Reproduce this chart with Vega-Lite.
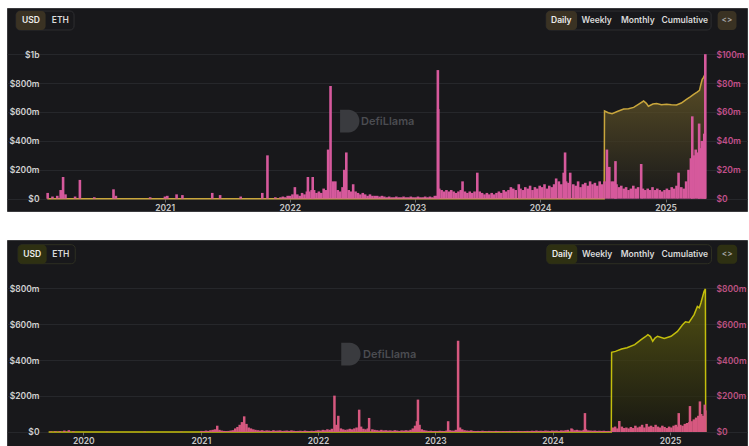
{
  "$schema": "https://vega.github.io/schema/vega-lite/v6.json",
  "background": "white",
  "padding": {"left": 6, "top": 7, "right": 3, "bottom": 3},
  "spacing": 27,
  "config": {
    "view": {"fill": "#18181b", "stroke": "#3a3a3d", "strokeWidth": 1},
    "font": "Inter",
    "axis": {"labelFont": "Inter", "labelFontSize": 8.5, "labelFontWeight": 600}
  },
  "datasets": {
    "topArea": [
      {"d":"2020-01-25","v":0},{"d":"2024-07-06","v":0},{"d":"2024-07-07","v":607},{"d":"2024-07-18","v":595},{"d":"2024-07-29","v":588},{"d":"2024-08-15","v":605},{"d":"2024-09-01","v":620},{"d":"2024-09-15","v":622},{"d":"2024-09-30","v":632},{"d":"2024-10-15","v":655},{"d":"2024-10-29","v":676},{"d":"2024-11-06","v":660},{"d":"2024-11-12","v":640},{"d":"2024-11-25","v":655},{"d":"2024-12-06","v":658},{"d":"2024-12-20","v":650},{"d":"2025-01-04","v":653},{"d":"2025-01-18","v":650},{"d":"2025-02-02","v":648},{"d":"2025-02-16","v":662},{"d":"2025-03-03","v":688},{"d":"2025-03-14","v":705},{"d":"2025-03-24","v":722},{"d":"2025-04-03","v":738},{"d":"2025-04-10","v":750},{"d":"2025-04-14","v":790},{"d":"2025-04-18","v":826},{"d":"2025-04-22","v":840},{"d":"2025-04-24","v":850},{"d":"2025-04-26","v":820},{"d":"2025-04-27","v":0}
    ],
    "topBars": [
      {"d":"2020-01-26","v":4},{"d":"2020-02-09","v":1.5},{"d":"2020-02-23","v":2},{"d":"2020-03-04","v":6},{"d":"2020-03-11","v":15},{"d":"2020-03-18","v":3},{"d":"2020-04-15","v":1.5},{"d":"2020-04-29","v":13},{"d":"2020-06-10","v":1},{"d":"2020-08-05","v":6.5},{"d":"2020-08-12","v":2},{"d":"2020-11-20","v":1},{"d":"2021-01-02","v":1.5},{"d":"2021-01-09","v":2},{"d":"2021-02-05","v":3},{"d":"2021-02-22","v":2.5},{"d":"2021-05-20","v":4},{"d":"2021-06-12","v":2.5},{"d":"2021-08-11","v":1.5},{"d":"2021-10-13","v":4},{"d":"2021-10-28","v":30},{"d":"2021-11-20","v":1},
      {"d":"2021-12-05","v":1},{"d":"2021-12-12","v":1.5},{"d":"2021-12-19","v":1},{"d":"2021-12-26","v":2},
      {"d":"2022-01-02","v":2},{"d":"2022-01-09","v":3},{"d":"2022-01-16","v":8},{"d":"2022-01-23","v":3},{"d":"2022-01-30","v":2},
      {"d":"2022-02-06","v":4},{"d":"2022-02-13","v":3},{"d":"2022-02-20","v":5},{"d":"2022-02-23","v":15},{"d":"2022-02-27","v":5},
      {"d":"2022-03-06","v":6},{"d":"2022-03-09","v":15},{"d":"2022-03-13","v":6},{"d":"2022-03-20","v":4},{"d":"2022-03-27","v":5},
      {"d":"2022-04-03","v":4},{"d":"2022-04-10","v":7},{"d":"2022-04-17","v":6},{"d":"2022-04-23","v":34},{"d":"2022-04-30","v":78},
      {"d":"2022-05-07","v":12},{"d":"2022-05-14","v":12},{"d":"2022-05-21","v":6},{"d":"2022-05-28","v":5},
      {"d":"2022-06-04","v":8},{"d":"2022-06-09","v":20},{"d":"2022-06-15","v":32},{"d":"2022-06-22","v":6},{"d":"2022-06-29","v":5},
      {"d":"2022-07-05","v":10},{"d":"2022-07-12","v":5},{"d":"2022-07-19","v":4},{"d":"2022-07-26","v":3},
      {"d":"2022-08-02","v":4},{"d":"2022-08-09","v":3},{"d":"2022-08-16","v":2},{"d":"2022-08-23","v":3},{"d":"2022-08-30","v":2},
      {"d":"2022-09-06","v":2},{"d":"2022-09-13","v":2},{"d":"2022-09-20","v":1.5},{"d":"2022-09-27","v":2},
      {"d":"2022-10-04","v":1.5},{"d":"2022-10-11","v":1},{"d":"2022-10-18","v":1.5},{"d":"2022-10-25","v":1},
      {"d":"2022-11-01","v":1},{"d":"2022-11-08","v":1.5},{"d":"2022-11-15","v":1},{"d":"2022-11-22","v":1},{"d":"2022-11-29","v":1.5},
      {"d":"2022-12-06","v":1},{"d":"2022-12-13","v":1},{"d":"2022-12-20","v":1.5},{"d":"2022-12-27","v":1},
      {"d":"2023-01-03","v":1},{"d":"2023-01-10","v":1.5},{"d":"2023-01-17","v":1},{"d":"2023-01-24","v":1},{"d":"2023-01-31","v":1.5},
      {"d":"2023-02-07","v":1},{"d":"2023-02-14","v":1.5},{"d":"2023-02-21","v":1},{"d":"2023-02-28","v":2},
      {"d":"2023-03-06","v":2},{"d":"2023-03-09","v":89},{"d":"2023-03-10","v":62},{"d":"2023-03-13","v":7},{"d":"2023-03-20","v":6},{"d":"2023-03-27","v":5},
      {"d":"2023-04-03","v":6},{"d":"2023-04-10","v":5},{"d":"2023-04-17","v":6},{"d":"2023-04-24","v":5},
      {"d":"2023-05-01","v":4},{"d":"2023-05-08","v":5},{"d":"2023-05-15","v":6},{"d":"2023-05-20","v":12},{"d":"2023-05-27","v":5},
      {"d":"2023-06-03","v":4},{"d":"2023-06-10","v":5},{"d":"2023-06-17","v":4},{"d":"2023-06-24","v":5},
      {"d":"2023-07-02","v":18},{"d":"2023-07-09","v":5},{"d":"2023-07-16","v":4},{"d":"2023-07-23","v":3},{"d":"2023-07-30","v":4},
      {"d":"2023-08-06","v":3},{"d":"2023-08-13","v":4},{"d":"2023-08-20","v":3},{"d":"2023-08-27","v":4},
      {"d":"2023-09-03","v":5},{"d":"2023-09-10","v":4},{"d":"2023-09-17","v":6},{"d":"2023-09-24","v":5},
      {"d":"2023-10-01","v":6},{"d":"2023-10-08","v":8},{"d":"2023-10-15","v":7},{"d":"2023-10-22","v":6},{"d":"2023-10-31","v":10},
      {"d":"2023-11-05","v":7},{"d":"2023-11-12","v":6},{"d":"2023-11-19","v":8},{"d":"2023-11-26","v":7},
      {"d":"2023-12-03","v":9},{"d":"2023-12-10","v":6},{"d":"2023-12-17","v":8},{"d":"2023-12-24","v":7},{"d":"2023-12-31","v":9},
      {"d":"2024-01-07","v":8},{"d":"2024-01-14","v":10},{"d":"2024-01-21","v":7},{"d":"2024-01-28","v":9},
      {"d":"2024-02-04","v":8},{"d":"2024-02-11","v":10},{"d":"2024-02-17","v":14},{"d":"2024-02-25","v":12},
      {"d":"2024-03-03","v":10},{"d":"2024-03-10","v":18},{"d":"2024-03-14","v":32},{"d":"2024-03-17","v":12},{"d":"2024-03-24","v":11},{"d":"2024-03-29","v":18},
      {"d":"2024-04-07","v":10},{"d":"2024-04-14","v":9},{"d":"2024-04-21","v":12},{"d":"2024-04-28","v":8},
      {"d":"2024-05-05","v":10},{"d":"2024-05-12","v":11},{"d":"2024-05-19","v":9},{"d":"2024-05-26","v":12},
      {"d":"2024-06-02","v":10},{"d":"2024-06-09","v":11},{"d":"2024-06-16","v":9},{"d":"2024-06-23","v":12},{"d":"2024-06-30","v":10},
      {"d":"2024-07-07","v":12},{"d":"2024-07-14","v":34},{"d":"2024-07-21","v":22},{"d":"2024-07-28","v":12},
      {"d":"2024-08-04","v":12},{"d":"2024-08-08","v":26},{"d":"2024-08-11","v":10},{"d":"2024-08-18","v":8},{"d":"2024-08-25","v":9},
      {"d":"2024-09-01","v":7},{"d":"2024-09-08","v":8},{"d":"2024-09-15","v":6},{"d":"2024-09-22","v":7},{"d":"2024-09-29","v":9},
      {"d":"2024-10-06","v":7},{"d":"2024-10-13","v":8},{"d":"2024-10-22","v":24},{"d":"2024-10-27","v":7},
      {"d":"2024-11-03","v":6},{"d":"2024-11-10","v":7},{"d":"2024-11-17","v":6},{"d":"2024-11-24","v":8},
      {"d":"2024-12-01","v":6},{"d":"2024-12-08","v":7},{"d":"2024-12-15","v":6},{"d":"2024-12-22","v":5},{"d":"2024-12-29","v":6},
      {"d":"2025-01-05","v":7},{"d":"2025-01-12","v":6},{"d":"2025-01-19","v":8},{"d":"2025-01-26","v":7},
      {"d":"2025-02-02","v":9},{"d":"2025-02-08","v":18},{"d":"2025-02-16","v":8},{"d":"2025-02-23","v":7},
      {"d":"2025-03-02","v":12},{"d":"2025-03-09","v":20},{"d":"2025-03-16","v":28},{"d":"2025-03-20","v":57},{"d":"2025-03-24","v":30},{"d":"2025-03-30","v":34},
      {"d":"2025-04-06","v":32},{"d":"2025-04-09","v":52},{"d":"2025-04-13","v":35},{"d":"2025-04-17","v":40},{"d":"2025-04-21","v":38},{"d":"2025-04-24","v":45},{"d":"2025-04-27","v":100}
    ],
    "botArea": [
      {"d":"2019-09-15","v":0},{"d":"2024-07-02","v":0},{"d":"2024-07-03","v":443},{"d":"2024-07-15","v":448},{"d":"2024-08-03","v":461},{"d":"2024-08-20","v":468},{"d":"2024-09-13","v":485},{"d":"2024-10-03","v":513},{"d":"2024-10-15","v":528},{"d":"2024-10-24","v":541},{"d":"2024-11-01","v":530},{"d":"2024-11-08","v":504},{"d":"2024-11-15","v":522},{"d":"2024-11-23","v":532},{"d":"2024-12-14","v":519},{"d":"2025-01-04","v":532},{"d":"2025-01-24","v":559},{"d":"2025-02-09","v":596},{"d":"2025-02-18","v":612},{"d":"2025-03-01","v":609},{"d":"2025-03-17","v":652},{"d":"2025-03-27","v":698},{"d":"2025-04-02","v":690},{"d":"2025-04-07","v":717},{"d":"2025-04-17","v":782},{"d":"2025-04-21","v":795},{"d":"2025-04-22","v":0}
    ],
    "botBars": [
      {"d":"2019-09-22","v":3},{"d":"2019-10-06","v":4},{"d":"2019-10-20","v":5},{"d":"2019-11-03","v":8},{"d":"2019-11-17","v":10},{"d":"2019-12-01","v":4},{"d":"2020-03-15","v":2},{"d":"2020-07-10","v":2},{"d":"2020-11-01","v":2},
      {"d":"2021-01-03","v":6},{"d":"2021-01-10","v":5},{"d":"2021-01-17","v":8},{"d":"2021-01-24","v":6},{"d":"2021-01-31","v":10},
      {"d":"2021-02-07","v":12},{"d":"2021-02-14","v":15},{"d":"2021-02-21","v":35},{"d":"2021-02-28","v":12},
      {"d":"2021-03-07","v":8},{"d":"2021-03-14","v":6},{"d":"2021-03-21","v":5},{"d":"2021-03-28","v":6},
      {"d":"2021-04-04","v":8},{"d":"2021-04-11","v":10},{"d":"2021-04-18","v":20},{"d":"2021-04-25","v":28},
      {"d":"2021-05-02","v":40},{"d":"2021-05-09","v":55},{"d":"2021-05-16","v":87},{"d":"2021-05-23","v":45},{"d":"2021-05-30","v":25},
      {"d":"2021-06-06","v":20},{"d":"2021-06-13","v":15},{"d":"2021-06-20","v":12},{"d":"2021-06-27","v":10},
      {"d":"2021-07-04","v":8},{"d":"2021-07-11","v":10},{"d":"2021-07-18","v":7},{"d":"2021-07-25","v":9},
      {"d":"2021-08-01","v":8},{"d":"2021-08-08","v":6},{"d":"2021-08-15","v":10},{"d":"2021-08-22","v":7},{"d":"2021-08-29","v":8},
      {"d":"2021-09-05","v":9},{"d":"2021-09-12","v":6},{"d":"2021-09-19","v":7},{"d":"2021-09-26","v":8},
      {"d":"2021-10-03","v":6},{"d":"2021-10-10","v":9},{"d":"2021-10-17","v":7},{"d":"2021-10-24","v":5},{"d":"2021-10-31","v":6},
      {"d":"2021-11-07","v":7},{"d":"2021-11-14","v":5},{"d":"2021-11-21","v":8},{"d":"2021-11-28","v":6},
      {"d":"2021-12-05","v":5},{"d":"2021-12-12","v":7},{"d":"2021-12-19","v":6},{"d":"2021-12-26","v":8},
      {"d":"2022-01-02","v":10},{"d":"2022-01-09","v":8},{"d":"2022-01-16","v":12},{"d":"2022-01-23","v":10},{"d":"2022-01-30","v":15},
      {"d":"2022-02-06","v":12},{"d":"2022-02-13","v":18},{"d":"2022-02-21","v":202},{"d":"2022-02-27","v":40},
      {"d":"2022-03-05","v":90},{"d":"2022-03-13","v":20},{"d":"2022-03-20","v":15},{"d":"2022-03-27","v":12},
      {"d":"2022-04-03","v":14},{"d":"2022-04-10","v":18},{"d":"2022-04-17","v":15},{"d":"2022-04-24","v":20},
      {"d":"2022-05-01","v":25},{"d":"2022-05-09","v":124},{"d":"2022-05-15","v":30},{"d":"2022-05-22","v":18},{"d":"2022-05-29","v":15},
      {"d":"2022-06-05","v":20},{"d":"2022-06-09","v":78},{"d":"2022-06-19","v":15},{"d":"2022-06-26","v":12},
      {"d":"2022-07-03","v":10},{"d":"2022-07-10","v":8},{"d":"2022-07-17","v":12},{"d":"2022-07-24","v":9},{"d":"2022-07-31","v":10},
      {"d":"2022-08-07","v":8},{"d":"2022-08-14","v":9},{"d":"2022-08-21","v":7},{"d":"2022-08-28","v":10},
      {"d":"2022-09-04","v":8},{"d":"2022-09-11","v":6},{"d":"2022-09-18","v":9},{"d":"2022-09-25","v":8},
      {"d":"2022-10-02","v":10},{"d":"2022-10-09","v":8},{"d":"2022-10-16","v":12},{"d":"2022-10-23","v":20},{"d":"2022-10-30","v":35},
      {"d":"2022-11-05","v":60},{"d":"2022-11-08","v":180},{"d":"2022-11-13","v":40},{"d":"2022-11-20","v":15},{"d":"2022-11-27","v":10},
      {"d":"2022-12-04","v":8},{"d":"2022-12-11","v":6},{"d":"2022-12-18","v":7},{"d":"2022-12-25","v":5},
      {"d":"2023-01-01","v":6},{"d":"2023-01-08","v":5},{"d":"2023-01-15","v":7},{"d":"2023-01-22","v":6},{"d":"2023-01-29","v":5},
      {"d":"2023-02-05","v":8},{"d":"2023-02-10","v":60},{"d":"2023-02-15","v":10},{"d":"2023-02-22","v":8},{"d":"2023-03-01","v":7},
      {"d":"2023-03-06","v":12},{"d":"2023-03-13","v":507},{"d":"2023-03-19","v":25},{"d":"2023-03-26","v":15},
      {"d":"2023-04-02","v":10},{"d":"2023-04-09","v":8},{"d":"2023-04-16","v":7},{"d":"2023-04-23","v":9},{"d":"2023-04-30","v":6},
      {"d":"2023-05-07","v":5},{"d":"2023-05-14","v":6},{"d":"2023-05-21","v":5},{"d":"2023-05-28","v":7},
      {"d":"2023-06-04","v":5},{"d":"2023-06-11","v":4},{"d":"2023-06-18","v":6},{"d":"2023-06-25","v":5},
      {"d":"2023-07-02","v":4},{"d":"2023-07-09","v":6},{"d":"2023-07-16","v":5},{"d":"2023-07-23","v":4},{"d":"2023-07-30","v":5},
      {"d":"2023-08-06","v":4},{"d":"2023-08-13","v":5},{"d":"2023-08-20","v":6},{"d":"2023-08-27","v":4},
      {"d":"2023-09-03","v":5},{"d":"2023-09-10","v":4},{"d":"2023-09-17","v":6},{"d":"2023-09-24","v":5},
      {"d":"2023-10-01","v":4},{"d":"2023-10-08","v":5},{"d":"2023-10-15","v":6},{"d":"2023-10-22","v":5},{"d":"2023-10-29","v":7},
      {"d":"2023-11-05","v":6},{"d":"2023-11-12","v":8},{"d":"2023-11-19","v":6},{"d":"2023-11-26","v":7},
      {"d":"2023-12-03","v":6},{"d":"2023-12-10","v":8},{"d":"2023-12-17","v":7},{"d":"2023-12-24","v":6},{"d":"2023-12-31","v":8},
      {"d":"2024-01-07","v":7},{"d":"2024-01-14","v":8},{"d":"2024-01-21","v":6},{"d":"2024-01-28","v":9},
      {"d":"2024-02-04","v":8},{"d":"2024-02-11","v":10},{"d":"2024-02-18","v":12},{"d":"2024-02-29","v":20},
      {"d":"2024-03-03","v":15},{"d":"2024-03-10","v":10},{"d":"2024-03-17","v":12},{"d":"2024-03-24","v":9},{"d":"2024-03-31","v":8},
      {"d":"2024-04-07","v":12},{"d":"2024-04-11","v":105},{"d":"2024-04-14","v":15},{"d":"2024-04-21","v":9},{"d":"2024-04-28","v":8},
      {"d":"2024-05-05","v":7},{"d":"2024-05-12","v":8},{"d":"2024-05-19","v":6},{"d":"2024-05-26","v":7},
      {"d":"2024-06-02","v":6},{"d":"2024-06-09","v":7},{"d":"2024-06-16","v":5},{"d":"2024-06-23","v":6},{"d":"2024-06-30","v":5},
      {"d":"2024-07-07","v":25},{"d":"2024-07-14","v":30},{"d":"2024-07-21","v":20},{"d":"2024-07-27","v":61},
      {"d":"2024-08-04","v":30},{"d":"2024-08-11","v":22},{"d":"2024-08-18","v":25},{"d":"2024-08-25","v":20},
      {"d":"2024-09-01","v":28},{"d":"2024-09-08","v":22},{"d":"2024-09-15","v":35},{"d":"2024-09-22","v":25},{"d":"2024-09-29","v":30},
      {"d":"2024-10-06","v":40},{"d":"2024-10-13","v":25},{"d":"2024-10-20","v":45},{"d":"2024-10-27","v":30},
      {"d":"2024-11-03","v":35},{"d":"2024-11-10","v":28},{"d":"2024-11-17","v":40},{"d":"2024-11-24","v":30},
      {"d":"2024-12-01","v":25},{"d":"2024-12-08","v":35},{"d":"2024-12-15","v":28},{"d":"2024-12-22","v":22},{"d":"2024-12-29","v":30},
      {"d":"2025-01-05","v":25},{"d":"2025-01-12","v":35},{"d":"2025-01-19","v":40},{"d":"2025-01-24","v":30},{"d":"2025-01-28","v":105},
      {"d":"2025-02-02","v":40},{"d":"2025-02-09","v":35},{"d":"2025-02-16","v":45},{"d":"2025-02-23","v":50},
      {"d":"2025-03-02","v":55},{"d":"2025-03-04","v":144},{"d":"2025-03-09","v":60},{"d":"2025-03-16","v":70},{"d":"2025-03-23","v":80},{"d":"2025-03-30","v":90},
      {"d":"2025-04-04","v":170},{"d":"2025-04-08","v":100},{"d":"2025-04-13","v":90},{"d":"2025-04-19","v":152},{"d":"2025-04-21","v":120}
    ]
  },
  "vconcat": [
    {
      "width": 740,
      "height": 203,
      "resolve": {"scale": {"y": "independent"}},
      "layer": [
        {
          "data": {"name": "topArea"},
          "mark": {
            "type": "area",
            "interpolate": "linear",
            "line": {"color": "#c9a63c", "strokeWidth": 1.5},
            "color": {"gradient": "linear", "x1": 0, "y1": 0, "x2": 0, "y2": 1,
              "stops": [{"offset": 0, "color": "#75642a"}, {"offset": 1, "color": "#19191a"}]}
          },
          "encoding": {
            "x": {"field": "d", "type": "temporal",
              "scale": {"type": "utc", "domain": [{"year": 2019, "month": 10, "date": 14, "utc": true}, {"year": 2025, "month": 8, "date": 12, "utc": true}]},
              "axis": {"title": null, "values": [{"year": 2021, "utc": true}, {"year": 2022, "utc": true}, {"year": 2023, "utc": true}, {"year": 2024, "utc": true}, {"year": 2025, "utc": true}],
                "format": "%Y", "offset": -12, "domain": false, "grid": false, "tickSize": 3, "tickColor": "#6a6a6a", "labelColor": "#c8c8c8", "labelPadding": 1}},
            "y": {"field": "v", "type": "quantitative",
              "scale": {"domain": [-85.1, 1319.6], "nice": false, "zero": false},
              "axis": {"title": null, "orient": "left", "values": [0, 200, 400, 600, 800, 1000],
                "labelExpr": "datum.value==1000?'$1b':datum.value==0?'$0':'$'+datum.value+'m'",
                "offset": -36, "domain": false, "ticks": false, "labelPadding": 4, "labelColor": "#d2d2d2",
                "grid": true, "gridColor": "#26272b", "gridWidth": 1}}
          }
        },
        {
          "data": {"name": "topBars"},
          "mark": {"type": "bar", "width": 2.6, "color": "#d6599c"},
          "encoding": {
            "x": {"field": "d", "type": "temporal"},
            "y": {"field": "v", "type": "quantitative",
              "scale": {"domain": [-8.51, 131.96], "nice": false, "zero": false},
              "axis": {"title": null, "orient": "right", "values": [0, 20, 40, 60, 80, 100],
                "labelExpr": "datum.value==0?'$0':'$'+datum.value+'m'",
                "offset": -35, "domain": false, "ticks": false, "grid": false, "labelPadding": 4, "labelColor": "#c3508c"}}
          }
        },
        {
          "data": {"values": [{}]},
          "mark": {"type": "rect", "fill": "#18181b", "stroke": "#2e2e31", "strokeWidth": 1, "cornerRadius": 4},
          "encoding": {
            "x": {"datum": {"year": 2019, "month": 10, "date": 26, "utc": true}, "type": "temporal"},
            "x2": {"datum": {"year": 2020, "month": 4, "date": 12, "utc": true}},
            "y": {"datum": 1298.6, "type": "quantitative", "axis": null, "scale": {"domain": [-85.1, 1319.6], "nice": false, "zero": false}},
            "y2": {"datum": 1167.4}
          }
        },
        {
          "data": {"values": [{}]},
          "mark": {"type": "rect", "fill": "#3a3223", "cornerRadius": 4},
          "encoding": {
            "x": {"datum": {"year": 2019, "month": 10, "date": 26, "utc": true}, "type": "temporal"},
            "x2": {"datum": {"year": 2020, "month": 1, "date": 20, "utc": true}},
            "y": {"datum": 1298.6, "type": "quantitative", "axis": null, "scale": {"domain": [-85.1, 1319.6], "nice": false, "zero": false}},
            "y2": {"datum": 1167.4}
          }
        },
        {
          "data": {"values": [{}]},
          "mark": {"type": "rect", "fill": "#18181b", "stroke": "#2e2e31", "strokeWidth": 1, "cornerRadius": 4},
          "encoding": {
            "x": {"datum": {"year": 2024, "month": 1, "date": 19, "utc": true}, "type": "temporal"},
            "x2": {"datum": {"year": 2025, "month": 5, "date": 14, "utc": true}},
            "y": {"datum": 1298.6, "type": "quantitative", "axis": null, "scale": {"domain": [-85.1, 1319.6], "nice": false, "zero": false}},
            "y2": {"datum": 1167.4}
          }
        },
        {
          "data": {"values": [{}]},
          "mark": {"type": "rect", "fill": "#3a3223", "cornerRadius": 4},
          "encoding": {
            "x": {"datum": {"year": 2024, "month": 1, "date": 19, "utc": true}, "type": "temporal"},
            "x2": {"datum": {"year": 2024, "month": 4, "date": 18, "utc": true}},
            "y": {"datum": 1298.6, "type": "quantitative", "axis": null, "scale": {"domain": [-85.1, 1319.6], "nice": false, "zero": false}},
            "y2": {"datum": 1167.4}
          }
        },
        {
          "data": {"values": [{}]},
          "mark": {"type": "rect", "fill": "#3a3223", "cornerRadius": 4},
          "encoding": {
            "x": {"datum": {"year": 2025, "month": 6, "date": 2, "utc": true}, "type": "temporal"},
            "x2": {"datum": {"year": 2025, "month": 7, "date": 27, "utc": true}},
            "y": {"datum": 1298.6, "type": "quantitative", "axis": null, "scale": {"domain": [-85.1, 1319.6], "nice": false, "zero": false}},
            "y2": {"datum": 1167.4}
          }
        },
        {
          "data": {"values": [{}]},
          "mark": {"type": "text", "fontSize": 8.5, "fontWeight": 600, "color": "#ececec", "baseline": "middle"},
          "encoding": {
            "x": {"datum": {"year": 2019, "month": 12, "date": 8, "utc": true}, "type": "temporal"},
            "y": {"datum": 1235, "type": "quantitative", "axis": null, "scale": {"domain": [-85.1, 1319.6], "nice": false, "zero": false}},
            "text": {"value": "USD"}
          }
        },
        {
          "data": {"values": [{}]},
          "mark": {"type": "text", "fontSize": 8.5, "fontWeight": 600, "color": "#dadada", "baseline": "middle"},
          "encoding": {
            "x": {"datum": {"year": 2020, "month": 3, "date": 3, "utc": true}, "type": "temporal"},
            "y": {"datum": 1235, "type": "quantitative", "axis": null, "scale": {"domain": [-85.1, 1319.6], "nice": false, "zero": false}},
            "text": {"value": "ETH"}
          }
        },
        {
          "data": {"values": [{}]},
          "mark": {"type": "text", "fontSize": 8.5, "fontWeight": 600, "color": "#ececec", "baseline": "middle"},
          "encoding": {
            "x": {"datum": {"year": 2024, "month": 3, "date": 3, "utc": true}, "type": "temporal"},
            "y": {"datum": 1235, "type": "quantitative", "axis": null, "scale": {"domain": [-85.1, 1319.6], "nice": false, "zero": false}},
            "text": {"value": "Daily"}
          }
        },
        {
          "data": {"values": [{}]},
          "mark": {"type": "text", "fontSize": 8.5, "fontWeight": 600, "color": "#dadada", "baseline": "middle"},
          "encoding": {
            "x": {"datum": {"year": 2024, "month": 6, "date": 14, "utc": true}, "type": "temporal"},
            "y": {"datum": 1235, "type": "quantitative", "axis": null, "scale": {"domain": [-85.1, 1319.6], "nice": false, "zero": false}},
            "text": {"value": "Weekly"}
          }
        },
        {
          "data": {"values": [{}]},
          "mark": {"type": "text", "fontSize": 8.5, "fontWeight": 600, "color": "#dadada", "baseline": "middle"},
          "encoding": {
            "x": {"datum": {"year": 2024, "month": 10, "date": 12, "utc": true}, "type": "temporal"},
            "y": {"datum": 1235, "type": "quantitative", "axis": null, "scale": {"domain": [-85.1, 1319.6], "nice": false, "zero": false}},
            "text": {"value": "Monthly"}
          }
        },
        {
          "data": {"values": [{}]},
          "mark": {"type": "text", "fontSize": 8.5, "fontWeight": 600, "color": "#dadada", "baseline": "middle"},
          "encoding": {
            "x": {"datum": {"year": 2025, "month": 2, "date": 26, "utc": true}, "type": "temporal"},
            "y": {"datum": 1235, "type": "quantitative", "axis": null, "scale": {"domain": [-85.1, 1319.6], "nice": false, "zero": false}},
            "text": {"value": "Cumulative"}
          }
        },
        {
          "data": {"values": [{}]},
          "mark": {"type": "text", "fontSize": 8, "fontWeight": 600, "color": "#a9a9a9", "baseline": "middle"},
          "encoding": {
            "x": {"datum": {"year": 2025, "month": 6, "date": 29, "utc": true}, "type": "temporal"},
            "y": {"datum": 1235, "type": "quantitative", "axis": null, "scale": {"domain": [-85.1, 1319.6], "nice": false, "zero": false}},
            "text": {"value": "<>"}
          }
        },
        {
          "data": {"values": [{}]},
          "mark": {"type": "point", "shape": "M -0.7 -1 L 0.05 -1 A 0.95 1 0 0 1 0.05 1 L -0.7 1 Z", "filled": true, "size": 520, "color": "#3a3b3f", "opacity": 1},
          "encoding": {
            "x": {"datum": {"year": 2022, "month": 6, "date": 20, "utc": true}, "type": "temporal"},
            "y": {"datum": 537, "type": "quantitative", "axis": null, "scale": {"domain": [-85.1, 1319.6], "nice": false, "zero": false}}
          }
        },
        {
          "data": {"values": [{}]},
          "mark": {"type": "text", "fontSize": 11, "fontWeight": 600, "color": "#4b4c51", "align": "left", "baseline": "middle"},
          "encoding": {
            "x": {"datum": {"year": 2022, "month": 7, "date": 28, "utc": true}, "type": "temporal"},
            "y": {"datum": 531, "type": "quantitative", "axis": null, "scale": {"domain": [-85.1, 1319.6], "nice": false, "zero": false}},
            "text": {"value": "DefiLlama"}
          }
        }
      ]
    },
    {
      "width": 740,
      "height": 206,
      "resolve": {"scale": {"y": "independent"}},
      "layer": [
        {
          "data": {"name": "botArea"},
          "mark": {
            "type": "area",
            "interpolate": "linear",
            "line": {"color": "#c3be0c", "strokeWidth": 1.5},
            "color": {"gradient": "linear", "x1": 0, "y1": 0, "x2": 0, "y2": 1,
              "stops": [{"offset": 0, "color": "#6a680e"}, {"offset": 1, "color": "#19190f"}]}
          },
          "encoding": {
            "x": {"field": "d", "type": "temporal",
              "scale": {"type": "utc", "domain": [{"year": 2019, "month": 5, "date": 24, "utc": true}, {"year": 2025, "month": 8, "date": 13, "utc": true}]},
              "axis": {"title": null, "values": [{"year": 2020, "utc": true}, {"year": 2021, "utc": true}, {"year": 2022, "utc": true}, {"year": 2023, "utc": true}, {"year": 2024, "utc": true}, {"year": 2025, "utc": true}],
                "format": "%Y", "offset": -14, "domain": false, "grid": false, "tickSize": 3, "tickColor": "#6a6a6a", "labelColor": "#c8c8c8", "labelPadding": 1}},
            "y": {"field": "v", "type": "quantitative",
              "scale": {"domain": [-77.8, 1066.7], "nice": false, "zero": false},
              "axis": {"title": null, "orient": "left", "values": [0, 200, 400, 600, 800],
                "labelExpr": "datum.value==0?'$0':'$'+datum.value+'m'",
                "offset": -36, "domain": false, "ticks": false, "labelPadding": 4, "labelColor": "#d2d2d2",
                "grid": true, "gridColor": "#26272b", "gridWidth": 1}}
          }
        },
        {
          "data": {"name": "botBars"},
          "mark": {"type": "bar", "width": 2.5, "color": "#d6587f"},
          "encoding": {
            "x": {"field": "d", "type": "temporal"},
            "y": {"field": "v", "type": "quantitative",
              "scale": {"domain": [-77.8, 1066.7], "nice": false, "zero": false},
              "axis": {"title": null, "orient": "right", "values": [0, 200, 400, 600, 800],
                "labelExpr": "datum.value==0?'$0':'$'+datum.value+'m'",
                "offset": -35, "domain": false, "ticks": false, "grid": false, "labelPadding": 4, "labelColor": "#bd5282"}}
          }
        },
        {
          "data": {"values": [{}]},
          "mark": {"type": "rect", "fill": "#18181b", "stroke": "#2e2f22", "strokeWidth": 1, "cornerRadius": 4},
          "encoding": {
            "x": {"datum": {"year": 2019, "month": 6, "date": 12, "utc": true}, "type": "temporal"},
            "x2": {"datum": {"year": 2019, "month": 12, "date": 7, "utc": true}},
            "y": {"datum": 1040.6, "type": "quantitative", "axis": null, "scale": {"domain": [-77.8, 1066.7], "nice": false, "zero": false}},
            "y2": {"datum": 935}
          }
        },
        {
          "data": {"values": [{}]},
          "mark": {"type": "rect", "fill": "#2e3012", "cornerRadius": 4},
          "encoding": {
            "x": {"datum": {"year": 2019, "month": 6, "date": 12, "utc": true}, "type": "temporal"},
            "x2": {"datum": {"year": 2019, "month": 9, "date": 9, "utc": true}},
            "y": {"datum": 1040.6, "type": "quantitative", "axis": null, "scale": {"domain": [-77.8, 1066.7], "nice": false, "zero": false}},
            "y2": {"datum": 935}
          }
        },
        {
          "data": {"values": [{}]},
          "mark": {"type": "rect", "fill": "#18181b", "stroke": "#2e2f22", "strokeWidth": 1, "cornerRadius": 4},
          "encoding": {
            "x": {"datum": {"year": 2023, "month": 12, "date": 14, "utc": true}, "type": "temporal"},
            "x2": {"datum": {"year": 2025, "month": 5, "date": 10, "utc": true}},
            "y": {"datum": 1040.6, "type": "quantitative", "axis": null, "scale": {"domain": [-77.8, 1066.7], "nice": false, "zero": false}},
            "y2": {"datum": 935}
          }
        },
        {
          "data": {"values": [{}]},
          "mark": {"type": "rect", "fill": "#2e3012", "cornerRadius": 4},
          "encoding": {
            "x": {"datum": {"year": 2023, "month": 12, "date": 14, "utc": true}, "type": "temporal"},
            "x2": {"datum": {"year": 2024, "month": 3, "date": 18, "utc": true}},
            "y": {"datum": 1040.6, "type": "quantitative", "axis": null, "scale": {"domain": [-77.8, 1066.7], "nice": false, "zero": false}},
            "y2": {"datum": 935}
          }
        },
        {
          "data": {"values": [{}]},
          "mark": {"type": "rect", "fill": "#2e3012", "cornerRadius": 4},
          "encoding": {
            "x": {"datum": {"year": 2025, "month": 5, "date": 28, "utc": true}, "type": "temporal"},
            "x2": {"datum": {"year": 2025, "month": 7, "date": 29, "utc": true}},
            "y": {"datum": 1040.6, "type": "quantitative", "axis": null, "scale": {"domain": [-77.8, 1066.7], "nice": false, "zero": false}},
            "y2": {"datum": 935}
          }
        },
        {
          "data": {"values": [{}]},
          "mark": {"type": "text", "fontSize": 8.5, "fontWeight": 600, "color": "#ececec", "baseline": "middle"},
          "encoding": {
            "x": {"datum": {"year": 2019, "month": 7, "date": 26, "utc": true}, "type": "temporal"},
            "y": {"datum": 988.9, "type": "quantitative", "axis": null, "scale": {"domain": [-77.8, 1066.7], "nice": false, "zero": false}},
            "text": {"value": "USD"}
          }
        },
        {
          "data": {"values": [{}]},
          "mark": {"type": "text", "fontSize": 8.5, "fontWeight": 600, "color": "#dadada", "baseline": "middle"},
          "encoding": {
            "x": {"datum": {"year": 2019, "month": 10, "date": 23, "utc": true}, "type": "temporal"},
            "y": {"datum": 988.9, "type": "quantitative", "axis": null, "scale": {"domain": [-77.8, 1066.7], "nice": false, "zero": false}},
            "text": {"value": "ETH"}
          }
        },
        {
          "data": {"values": [{}]},
          "mark": {"type": "text", "fontSize": 8.5, "fontWeight": 600, "color": "#ececec", "baseline": "middle"},
          "encoding": {
            "x": {"datum": {"year": 2024, "month": 1, "date": 31, "utc": true}, "type": "temporal"},
            "y": {"datum": 988.9, "type": "quantitative", "axis": null, "scale": {"domain": [-77.8, 1066.7], "nice": false, "zero": false}},
            "text": {"value": "Daily"}
          }
        },
        {
          "data": {"values": [{}]},
          "mark": {"type": "text", "fontSize": 8.5, "fontWeight": 600, "color": "#dadada", "baseline": "middle"},
          "encoding": {
            "x": {"datum": {"year": 2024, "month": 5, "date": 19, "utc": true}, "type": "temporal"},
            "y": {"datum": 988.9, "type": "quantitative", "axis": null, "scale": {"domain": [-77.8, 1066.7], "nice": false, "zero": false}},
            "text": {"value": "Weekly"}
          }
        },
        {
          "data": {"values": [{}]},
          "mark": {"type": "text", "fontSize": 8.5, "fontWeight": 600, "color": "#dadada", "baseline": "middle"},
          "encoding": {
            "x": {"datum": {"year": 2024, "month": 9, "date": 22, "utc": true}, "type": "temporal"},
            "y": {"datum": 988.9, "type": "quantitative", "axis": null, "scale": {"domain": [-77.8, 1066.7], "nice": false, "zero": false}},
            "text": {"value": "Monthly"}
          }
        },
        {
          "data": {"values": [{}]},
          "mark": {"type": "text", "fontSize": 8.5, "fontWeight": 600, "color": "#dadada", "baseline": "middle"},
          "encoding": {
            "x": {"datum": {"year": 2025, "month": 2, "date": 16, "utc": true}, "type": "temporal"},
            "y": {"datum": 988.9, "type": "quantitative", "axis": null, "scale": {"domain": [-77.8, 1066.7], "nice": false, "zero": false}},
            "text": {"value": "Cumulative"}
          }
        },
        {
          "data": {"values": [{}]},
          "mark": {"type": "text", "fontSize": 8, "fontWeight": 600, "color": "#a9a9a9", "baseline": "middle"},
          "encoding": {
            "x": {"datum": {"year": 2025, "month": 6, "date": 28, "utc": true}, "type": "temporal"},
            "y": {"datum": 988.9, "type": "quantitative", "axis": null, "scale": {"domain": [-77.8, 1066.7], "nice": false, "zero": false}},
            "text": {"value": "<>"}
          }
        },
        {
          "data": {"values": [{}]},
          "mark": {"type": "point", "shape": "M -0.7 -1 L 0.05 -1 A 0.95 1 0 0 1 0.05 1 L -0.7 1 Z", "filled": true, "size": 520, "color": "#3a3b3f", "opacity": 1},
          "encoding": {
            "x": {"datum": {"year": 2022, "month": 4, "date": 8, "utc": true}, "type": "temporal"},
            "y": {"datum": 433, "type": "quantitative", "axis": null, "scale": {"domain": [-77.8, 1066.7], "nice": false, "zero": false}}
          }
        },
        {
          "data": {"values": [{}]},
          "mark": {"type": "text", "fontSize": 11, "fontWeight": 600, "color": "#4b4c51", "align": "left", "baseline": "middle"},
          "encoding": {
            "x": {"datum": {"year": 2022, "month": 5, "date": 21, "utc": true}, "type": "temporal"},
            "y": {"datum": 427.8, "type": "quantitative", "axis": null, "scale": {"domain": [-77.8, 1066.7], "nice": false, "zero": false}},
            "text": {"value": "DefiLlama"}
          }
        }
      ]
    }
  ]
}
